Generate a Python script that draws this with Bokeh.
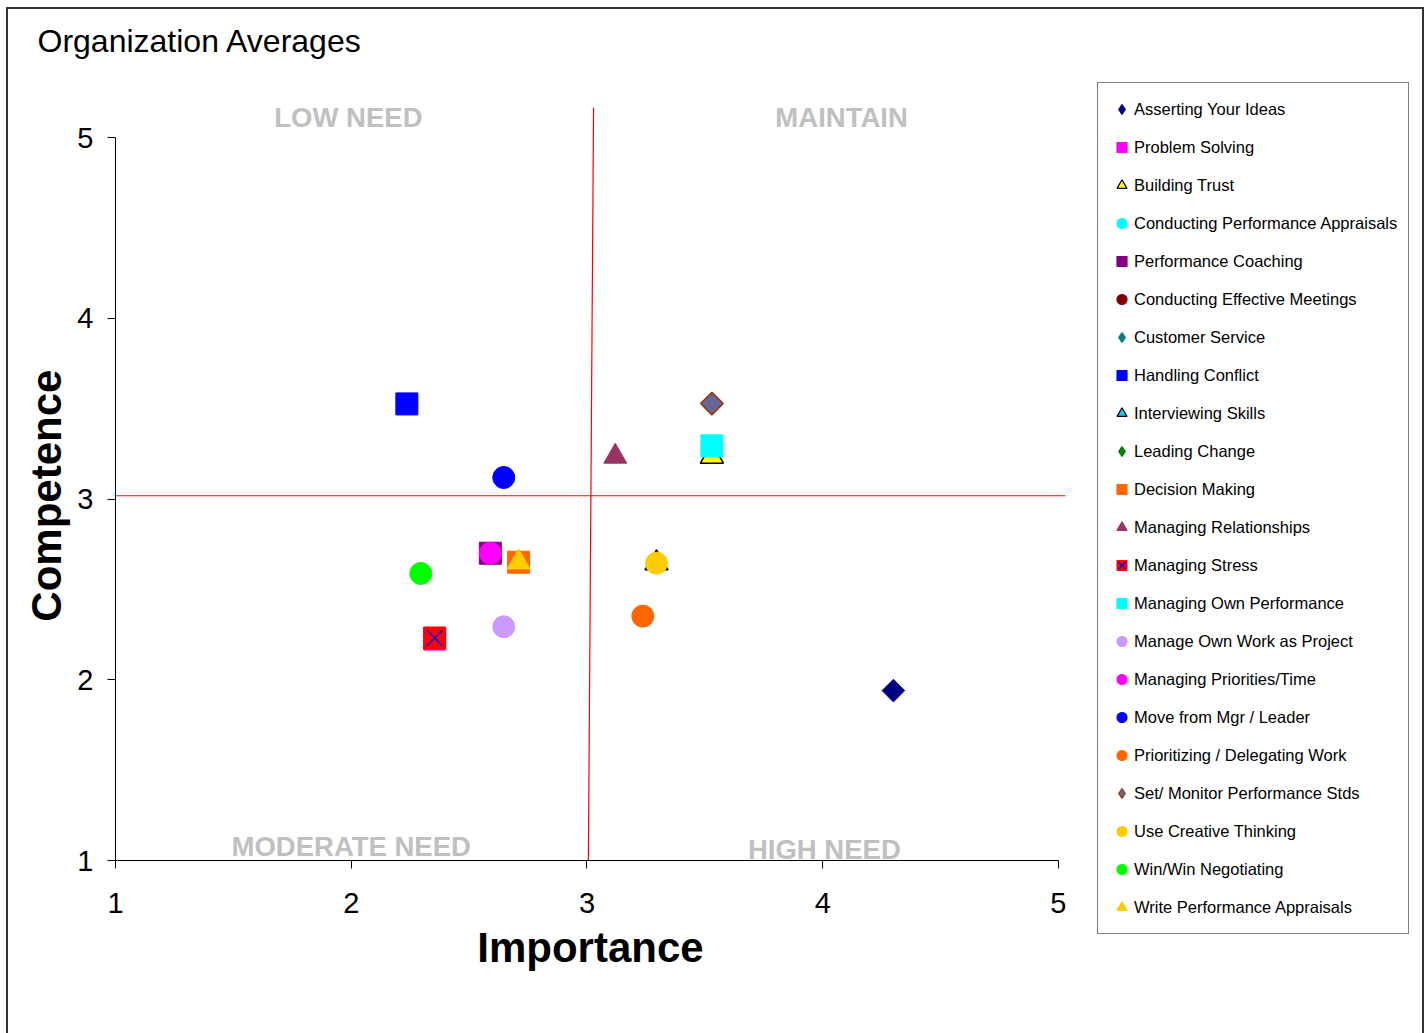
import math
from bokeh.plotting import figure
from bokeh.layouts import row, column
from bokeh.models import Range1d, Legend, LegendItem, Label, ColumnDataSource, FixedTicker
from bokeh.embed import file_html
from bokeh.resources import INLINE

# ---------------- data ----------------
skills = [
    "Asserting Your Ideas", "Problem Solving", "Building Trust",
    "Conducting Performance Appraisals", "Performance Coaching",
    "Conducting Effective Meetings", "Customer Service", "Handling Conflict",
    "Interviewing Skills", "Leading Change", "Decision Making",
    "Managing Relationships", "Managing Stress", "Managing Own Performance",
    "Manage Own Work as Project", "Managing Priorities/Time",
    "Move from Mgr / Leader", "Prioritizing / Delegating Work",
    "Set/ Monitor Performance Stds", "Use Creative Thinking",
    "Win/Win Negotiating", "Write Performance Appraisals",
]
importance = [4.30, 2.354, 3.53, 3.53, 2.59, 2.647, 3.53, 2.236, 3.295, 3.53, 2.71,
              3.12, 2.354, 3.53, 2.647, 2.59, 2.647, 3.237, 3.53, 3.295, 2.295, 2.71]
competence = [1.94, 2.225, 3.235, 3.294, 2.70, 3.119, 3.528, 3.526, 2.645, 3.528, 2.65,
              3.235, 2.231, 3.294, 2.293, 2.70, 3.119, 2.352, 3.528, 2.645, 2.588, 2.65]

x_ticks = [1, 2, 3, 4, 5]
y_ticks = [1, 2, 3, 4, 5]

# average (quadrant divider) lines
avg_importance_x = [3.006, 3.028]
avg_importance_y = [1.0, 5.166]
avg_competence_x = [1.0, 5.03]
avg_competence_y = [3.018, 3.018]

quadrant_names = ["LOW NEED", "MAINTAIN", "MODERATE NEED", "HIGH NEED"]
title_text = "Organization Averages"
x_title = "Importance"
y_title = "Competence"

# ---------------- styles (kind, fill, line, size) ----------------
styles = {
    "Asserting Your Ideas": ("diamond", "#000080", "#000080", 16),
    "Problem Solving": ("square", "#FF00FF", "#FF00FF", 22),
    "Building Trust": ("triangle", "#FFFF00", "#000000", 23),
    "Conducting Performance Appraisals": ("circle", "#00FFFF", "#00FFFF", 18),
    "Performance Coaching": ("square", "#800080", "#800080", 22),
    "Conducting Effective Meetings": ("circle", "#800000", "#800000", 18),
    "Customer Service": ("diamond", "#008080", "#008080", 13),
    "Handling Conflict": ("square", "#0000FF", "#0000FF", 22),
    "Interviewing Skills": ("triangle", "#00CCFF", "#000000", 23),
    "Leading Change": ("diamond", "#008000", "#008000", 13),
    "Decision Making": ("square", "#FF6600", "#FF6600", 22),
    "Managing Relationships": ("triangle", "#993366", "#993366", 23),
    "Managing Stress": ("square_x", "#FF0000", "#0000FF", 22),
    "Managing Own Performance": ("square", "#00FFFF", "#00FFFF", 22),
    "Manage Own Work as Project": ("circle", "#CC99FF", "#CC99FF", 22),
    "Managing Priorities/Time": ("circle", "#FF00FF", "#FF00FF", 22),
    "Move from Mgr / Leader": ("circle", "#0000FF", "#0000FF", 22),
    "Prioritizing / Delegating Work": ("circle", "#FF6600", "#FF6600", 22),
    "Set/ Monitor Performance Stds": ("diamond", "#666699", "#993300", 16),
    "Use Creative Thinking": ("circle", "#FFCC00", "#FFCC00", 22),
    "Win/Win Negotiating": ("circle", "#00FF00", "#00FF00", 22),
    "Write Performance Appraisals": ("triangle", "#FFCC00", "#FFCC00", 23),
}

FONT = "Liberation Sans"
BORDER = "#333333"
W, H = 1426, 1033
TITLE_H = 70
CHART_W = 1090


def bare(fig):
    fig.frame_align = False
    fig.outline_line_color = None
    fig.xgrid.visible = False
    fig.ygrid.visible = False
    fig.background_fill_alpha = 0
    fig.border_fill_alpha = 0


# ---------------- title strip ----------------
tf = figure(width=W, height=TITLE_H, x_range=Range1d(0, W), y_range=Range1d(0, TITLE_H),
            output_backend="svg", toolbar_location=None,
            x_axis_location=None, y_axis_location=None,
            min_border_left=0, min_border_right=0, min_border_top=0, min_border_bottom=0)
bare(tf)
tf.styles = {"box-shadow": (f"inset 6px 7px 0 0 white, inset -2px 0 0 0 white, "
                            f"inset 8px 9px 0 0 {BORDER}, inset -4px 0 0 0 {BORDER}"),
             "background-color": "white"}
tf.add_layout(Label(x=37, y=30, text=title_text, text_align="left",
                    text_baseline="alphabetic", text_font=FONT, text_font_size="32px",
                    text_color="black"))

# ---------------- chart ----------------
p = figure(width=CHART_W, height=H - TITLE_H,
           x_range=Range1d(1, 5.03), y_range=Range1d(1, 5.166),
           output_backend="svg", toolbar_location=None,
           min_border_left=115, min_border_right=25,
           min_border_top=107 - TITLE_H, min_border_bottom=173)
bare(p)
p.background_fill_color = "white"
p.background_fill_alpha = 1
p.styles = {"box-shadow": f"inset 6px 0 0 0 white, inset 8px 0 0 0 {BORDER}",
            "background-color": "white"}

for ax, ticks in ((p.xaxis, x_ticks), (p.yaxis, y_ticks)):
    ax.ticker = FixedTicker(ticks=ticks)
    ax.bounds = (1, 5)
    ax.minor_tick_line_color = None
    ax.major_tick_in = 0
    ax.major_tick_out = 8
    ax.axis_line_color = "black"
    ax.major_tick_line_color = "black"
    ax.major_label_text_font = FONT
    ax.major_label_text_font_size = "29px"
    ax.major_label_text_color = "black"
    ax.axis_label_text_font = FONT
    ax.axis_label_text_font_size = "42px"
    ax.axis_label_text_font_style = "bold"
    ax.axis_label_text_color = "black"

p.xaxis.axis_label = x_title
p.yaxis.axis_label = y_title + "\u00a0\u00a0"
p.xaxis.major_label_standoff = 24
p.yaxis.major_label_standoff = 14
p.xaxis.axis_label_standoff = 8
p.yaxis.axis_label_standoff = 4

# quadrant divider lines
p.line(avg_importance_x, avg_importance_y, line_color="#FF0000", line_width=1.2)
p.line(avg_competence_x, avg_competence_y, line_color="#FF0000", line_width=1.2)

# quadrant labels
quad_pos = [(1.988, 5.111), (4.08, 5.111), (2.0, 1.077), (4.007, 1.06)]
for name, (qx, qy) in zip(quadrant_names, quad_pos):
    p.add_layout(Label(x=qx, y=qy, text=name, text_align="center", text_baseline="middle",
                       text_font=FONT, text_font_size="27.5px", text_font_style="bold",
                       text_color="#C0C0C0"))

# ---------------- legend panel ----------------
lf = figure(width=W - CHART_W, height=H - TITLE_H, x_range=Range1d(0, 1), y_range=Range1d(0, 1),
            output_backend="svg", toolbar_location=None,
            x_axis_location=None, y_axis_location=None,
            min_border_left=0, min_border_right=0, min_border_top=0, min_border_bottom=0)
bare(lf)
lf.styles = {"box-shadow": f"inset -2px 0 0 0 white, inset -4px 0 0 0 {BORDER}",
             "background-color": "white"}

legend_items = []
for i, name in enumerate(skills):
    kind, fill, line, size = styles[name]
    src = ColumnDataSource(dict(x=[importance[i]], y=[competence[i]]))
    if kind == "diamond":
        p.scatter("x", "y", source=src, marker="square", angle=math.pi / 4, size=size,
                  fill_color=fill, line_color=line, line_width=1.5 if line != fill else 1)
        lr = lf.scatter("x", "y", source=src, marker="diamond", size=size,
                        fill_color=fill, line_color=line, line_width=1.2, visible=False)
        legend_items.append(LegendItem(label=name, renderers=[lr]))
    elif kind == "square_x":
        p.scatter("x", "y", source=src, marker="square", size=size,
                  fill_color=fill, line_color=fill)
        p.scatter("x", "y", source=src, marker="x", size=size,
                  line_color=line, line_width=1.3)
        l1 = lf.scatter("x", "y", source=src, marker="square", size=size,
                        fill_color=fill, line_color=fill, visible=False)
        l2 = lf.scatter("x", "y", source=src, marker="x", size=size,
                        line_color=line, line_width=1.2, visible=False)
        legend_items.append(LegendItem(label=name, renderers=[l1, l2]))
    else:
        lw = 1.5 if line == "#000000" else 1
        p.scatter("x", "y", source=src, marker=kind, size=size,
                  fill_color=fill, line_color=line, line_width=lw)
        lr = lf.scatter("x", "y", source=src, marker=kind, size=size,
                        fill_color=fill, line_color=line, line_width=1.2, visible=False)
        legend_items.append(LegendItem(label=name, renderers=[lr]))

legend = Legend(items=legend_items, location=(7, 99),
                orientation="vertical", margin=0, padding=11,
                spacing=8, glyph_width=25, glyph_height=30, label_height=30,
                label_standoff=0,
                label_text_font=FONT, label_text_font_size="16.5px",
                label_text_color="black",
                border_line_color="black", border_line_width=1,
                background_fill_color="white", background_fill_alpha=1,
                inactive_fill_alpha=0, click_policy="none")
lf.add_layout(legend)

layout = column(tf, row(p, lf))

open("out.html", "w").write(file_html(layout, INLINE))
